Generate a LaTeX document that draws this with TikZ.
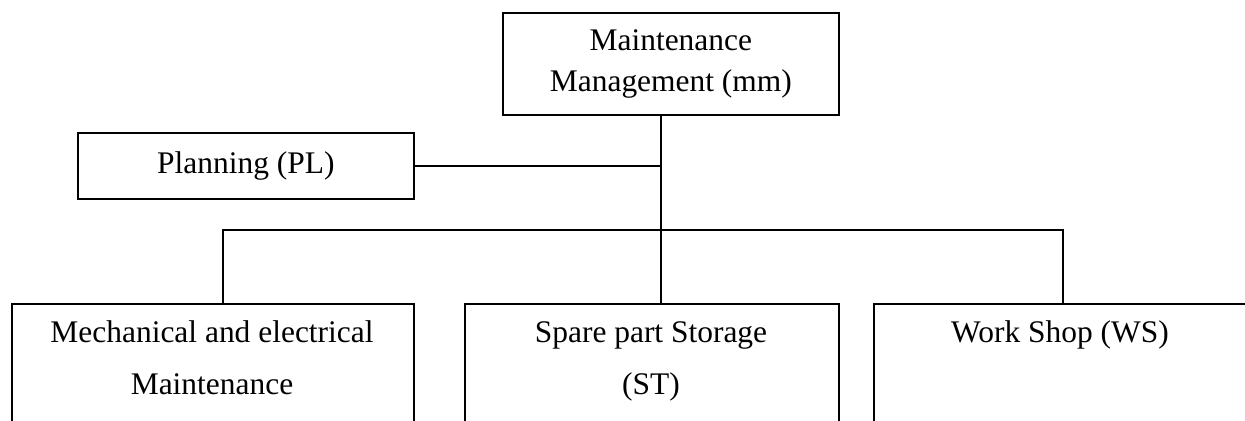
\documentclass[tikz,border=0pt]{standalone}
\usepackage{fontspec}
\setmainfont{Liberation Serif}
\begin{document}
\begin{tikzpicture}[x=0.02cm,y=-0.02cm,
    box/.style={draw,line width=1pt,rectangle,inner sep=0,anchor=north west},
    txt/.style={align=center,inner sep=0,font=\fontsize{17.9}{29.6}\selectfont},
    conn/.style={draw,line width=1pt}]
\clip (0,0) rectangle (1245,421);
%top
\node[box,minimum width=6.72cm,minimum height=2.04cm,align=center,font=\fontsize{17.9}{23.3}\selectfont] (mm) at (502,12) {Maintenance\\Management (mm)};
\node[box,minimum width=6.72cm,minimum height=1.32cm,font=\fontsize{17.9}{21}\selectfont] (pl) at (77,132) {Planning (PL)};
%bottom boxes, cut at the lower edge
\node[box,minimum width=8.04cm,minimum height=3cm] (mech) at (11,303) {};
\node[box,minimum width=7.48cm,minimum height=3cm] (st) at (464,303) {};
\node[box,minimum width=7.5cm,minimum height=3cm] (ws) at (873,303) {};
%base = last line
\node[txt,anchor=base] (mechtxt) at (212,395) {Mechanical and electrical\\Maintenance};
\node[txt,anchor=base] (sttxt) at (651,395) {Spare part Storage\\(ST)};
\node[txt,anchor=base] (wstxt) at (1060,343) {Work Shop (WS)};
%lines
\coordinate (hub) at (661,230);
\coordinate (busl) at (223,230);
\coordinate (busr) at (1063,230);
\path[conn] (mm.south -| hub) -- (st.north -| hub);
\path[conn] (pl.east) -- (pl.east -| hub);
\path[conn] (mech.north -| busl) -- (busl) -- (busr) -- (ws.north -| busr);
\end{tikzpicture}
\end{document}
